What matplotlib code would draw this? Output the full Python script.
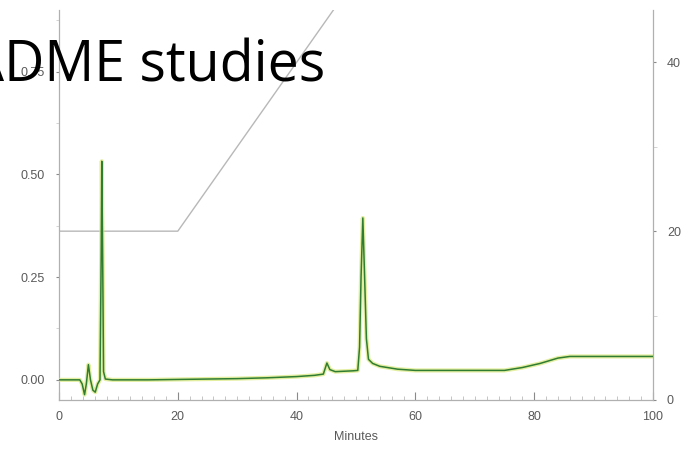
import matplotlib
matplotlib.use("Agg")
import matplotlib.pyplot as plt
from matplotlib.ticker import MultipleLocator, FixedLocator

# --- data ---
trace_time = [0, 2, 3.5, 3.9, 4.3, 4.6, 4.95, 5.3, 5.7, 6.1, 6.5, 6.9, 7.1, 7.2, 7.35, 7.5, 7.8,
              9, 15, 20, 25, 30, 35, 40, 43, 44.5, 45.1, 45.6, 46.5, 48, 49.5, 50.3, 50.6,
              50.85, 51.15, 51.45, 51.75, 52.1, 52.8, 54, 57, 60, 65, 70, 75, 78, 81, 84,
              86, 90, 95, 100]
trace_abs = [0.0, 0.0, 0.0, -0.01, -0.036, -0.01, 0.037, 0.0, -0.025, -0.03, -0.01, 0.0, 0.3,
             0.532, 0.3, 0.02, 0.002, 0.0, 0.0, 0.001, 0.002, 0.003, 0.005, 0.008, 0.011,
             0.014, 0.041, 0.025, 0.02, 0.021, 0.022, 0.023, 0.08, 0.25, 0.394, 0.25, 0.1,
             0.05, 0.04, 0.033, 0.026, 0.023, 0.023, 0.023, 0.023, 0.03, 0.04, 0.053, 0.057,
             0.057, 0.057, 0.057]
gradient_time = [0, 20, 100]
gradient_pct = [20, 20, 100]

x_ticks = [0, 20, 40, 60, 80, 100]
left_ticks = [0.00, 0.25, 0.50, 0.75]
right_ticks = [0, 20, 40]

W, H = 683, 453
fig = plt.figure(figsize=(W / 100, H / 100), dpi=100)
plt.rcParams['font.family'] = ['Liberation Sans', 'DejaVu Sans']

ax = fig.add_axes([59 / W, (H - 400) / H, (653 - 59) / W, (400 - 10) / H])
ax2 = ax.twinx()

# gradient on right axis
ax2.plot(gradient_time, gradient_pct, color='#b8b8b8', lw=1.0, zorder=1)
ax2.set_ylim(0, 46.2)

# chromatogram trace
ax.plot(trace_time, trace_abs, color='#d9e87a', lw=3.0, alpha=0.7, zorder=3)
ax.plot(trace_time, trace_abs, color='#2f7d32', lw=1.1, zorder=4)
ax.set_zorder(ax2.get_zorder() + 1)
ax.patch.set_visible(False)

ax.set_xlim(0, 100)
ax.set_ylim(-0.049, 0.90)

gray = '#8a8a8a'
txt = '#5a5a5a'
for a in (ax, ax2):
    a.spines['top'].set_visible(False)
    for s in ('left', 'right', 'bottom'):
        a.spines[s].set_color('#b0b0b0')
        a.spines[s].set_linewidth(0.8)

ax.xaxis.set_major_locator(FixedLocator(x_ticks))
ax.xaxis.set_minor_locator(MultipleLocator(2))
ax.set_xticklabels([str(v) for v in x_ticks])
ax.tick_params(axis='x', which='major', direction='in', length=6, color=gray, labelsize=9,
               labelcolor=txt, pad=8)
ax.tick_params(axis='x', which='minor', direction='in', length=3, color='#bbbbbb')

ax.yaxis.set_major_locator(FixedLocator(left_ticks))
ax.yaxis.set_minor_locator(MultipleLocator(0.125))
ax.set_yticklabels(['%.2f' % v for v in left_ticks])
ax.tick_params(axis='y', which='major', direction='out', length=2, color=gray, labelsize=9,
               labelcolor=txt, pad=8)
ax.tick_params(axis='y', which='minor', direction='out', length=2, color='#cccccc')

ax2.yaxis.set_major_locator(FixedLocator(right_ticks))
ax2.yaxis.set_minor_locator(MultipleLocator(10))
ax2.set_yticklabels([str(v) for v in right_ticks])
ax2.tick_params(axis='y', which='major', direction='out', length=2, color=gray, labelsize=9,
                labelcolor=txt, pad=8)
ax2.tick_params(axis='y', which='minor', direction='out', length=3, color='#cccccc')

ax.set_xlabel('Minutes', fontsize=9, color=txt, labelpad=6)

fig.text(325 / W, (H - 82) / H, 'ADME studies', fontsize=40, family=['Open Sans', 'DejaVu Sans'],
         color='black', ha='right', va='baseline', zorder=10)

fig.savefig('out.png', dpi=100)
